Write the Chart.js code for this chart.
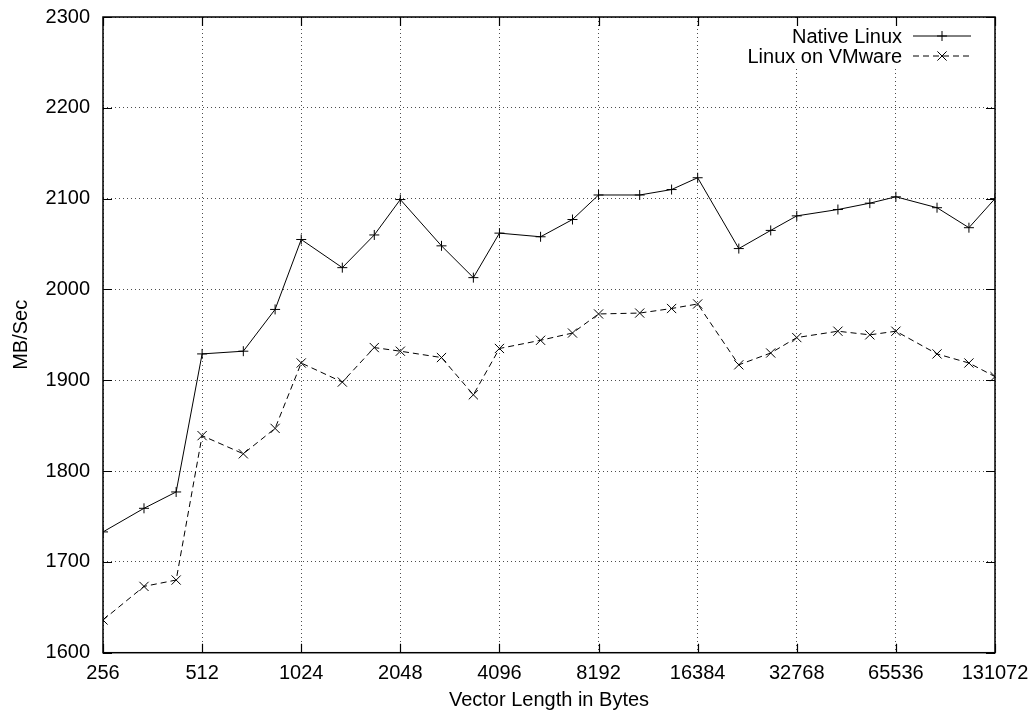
<!DOCTYPE html>
<html>
<head>
<meta charset="utf-8">
<script src="https://cdn.jsdelivr.net/npm/chart.js@4/dist/chart.umd.min.js"></script>
<style>
html,body{margin:0;padding:0;background:#fff;}
#wrap{width:1035px;height:718px;}
</style>
</head>
<body>
<div id="wrap"><canvas id="c" width="1035" height="718"></canvas></div>
<script>
// ---- data ----
const vectorLengths = [256, 341, 427, 512, 683, 853, 1024, 1365, 1707, 2048, 2731, 3413, 4096, 5461, 6827, 8192, 10923, 13653, 16384, 21845, 27307, 32768, 43691, 54613, 65536, 87381, 109227, 131072];
const nativeLinux = [1733, 1759, 1777, 1929, 1932, 1978, 2055, 2024, 2060, 2099, 2048, 2013, 2062, 2058, 2077, 2104, 2104, 2110, 2123, 2045, 2065, 2081, 2088, 2095, 2102, 2090, 2068, 2100];
const linuxOnVMware = [1636, 1673, 1680, 1839, 1819, 1847, 1919, 1898, 1936, 1932, 1925, 1884, 1935, 1944, 1952, 1973, 1974, 1979, 1984, 1917, 1930, 1947, 1954, 1950, 1954, 1929, 1919, 1904];
const xTickValues = [256, 512, 1024, 2048, 4096, 8192, 16384, 32768, 65536, 131072];
const yTickValues = [1600, 1700, 1800, 1900, 2000, 2100, 2200, 2300];
const seriesNames = ['Native Linux', 'Linux on VMware'];
const xTitle = 'Vector Length in Bytes';
const yTitle = 'MB/Sec';

const FONT = 'Liberation Sans, Arial, Helvetica, sans-serif';
Chart.defaults.font.family = FONT;
Chart.defaults.font.size = 20;
Chart.defaults.color = '#000';

const toPts = (ys) => vectorLengths.map((x, i) => ({x: x, y: ys[i]}));

const frame = {
  id: 'frame',
  beforeDatasetsDraw(chart) {
    const {ctx, chartArea: a, scales} = chart;
    ctx.save();
    // key area blanks the grid behind it
    ctx.fillStyle = '#fff';
    ctx.fillRect(745, a.top + 2, 243, 48);
    ctx.strokeStyle = '#000';
    ctx.lineWidth = 1.5;
    ctx.setLineDash([]);
    ctx.strokeRect(a.left, a.top, a.right - a.left, a.bottom - a.top);
    const tl = 9;
    ctx.lineWidth = 1.2;
    ctx.beginPath();
    xTickValues.forEach(v => {
      const px = Math.round(scales.x.getPixelForValue(v)) + 0.5;
      ctx.moveTo(px, a.bottom); ctx.lineTo(px, a.bottom - tl);
      ctx.moveTo(px, a.top); ctx.lineTo(px, a.top + tl);
    });
    yTickValues.forEach(v => {
      const py = Math.round(scales.y.getPixelForValue(v)) + 0.5;
      ctx.moveTo(a.left, py); ctx.lineTo(a.left + tl, py);
      ctx.moveTo(a.right, py); ctx.lineTo(a.right - tl, py);
    });
    ctx.stroke();
    ctx.restore();
  },
  afterDatasetsDraw(chart) {
    const {ctx} = chart;
    ctx.save();
    ctx.font = '20px ' + FONT;
    ctx.fillStyle = '#000';
    ctx.textAlign = 'right';
    ctx.textBaseline = 'middle';
    const rows = [37, 57];
    chart.data.datasets.forEach((ds, i) => {
      const y = rows[i];
      ctx.fillText(ds.label, 902, y);
      ctx.strokeStyle = '#000';
      ctx.lineWidth = 1;
      ctx.setLineDash(ds.borderDash || []);
      ctx.beginPath();
      ctx.moveTo(913, y - 1);
      ctx.lineTo(971, y - 1);
      ctx.stroke();
      ctx.setLineDash([]);
      Chart.helpers.drawPoint(ctx, {pointStyle: ds.pointStyle, radius: ds.pointRadius, borderWidth: 1}, 942, y - 1);
    });
    ctx.restore();
  }
};

new Chart(document.getElementById('c'), {
  type: 'line',
  data: {
    datasets: [
      {
        label: seriesNames[0],
        data: toPts(nativeLinux),
        borderColor: '#000',
        backgroundColor: '#000',
        borderWidth: 1,
        pointStyle: 'cross',
        pointRadius: 5,
        pointBorderWidth: 1,
        pointBorderColor: '#000',
        fill: false,
        tension: 0
      },
      {
        label: seriesNames[1],
        data: toPts(linuxOnVMware),
        borderColor: '#000',
        backgroundColor: '#000',
        borderWidth: 1,
        borderDash: [6, 4],
        pointStyle: 'crossRot',
        pointRadius: 6.5,
        pointBorderWidth: 1,
        pointBorderColor: '#000',
        fill: false,
        tension: 0
      }
    ]
  },
  options: {
    responsive: false,
    animation: false,
    events: [],
    layout: {padding: {left: 0, right: 40, top: 17, bottom: 0}},
    plugins: {legend: {display: false}, tooltip: {enabled: false}},
    scales: {
      x: {
        type: 'logarithmic',
        min: 256,
        max: 131072,
        afterBuildTicks(scale) { scale.ticks = xTickValues.map(v => ({value: v})); },
        afterFit(scale) { scale.height = 65.3; scale.paddingLeft = 0; scale.paddingRight = 0; },
        ticks: {
          autoSkip: false,
          maxRotation: 0,
          padding: 9,
          callback: (v) => String(v)
        },
        grid: {
          drawTicks: false,
          color: 'rgba(0,0,0,0.7)',
          lineWidth: 1
        },
        border: {display: false, dash: [1, 3]},
        title: {display: true, text: xTitle, padding: {top: 0, bottom: 6}}
      },
      y: {
        type: 'linear',
        min: 1600,
        max: 2300,
        afterBuildTicks(scale) { scale.ticks = yTickValues.map(v => ({value: v})); },
        afterFit(scale) { scale.width = 103; scale.paddingTop = 0; scale.paddingBottom = 0; },
        ticks: {padding: 13, callback: (v) => String(v)},
        grid: {
          drawTicks: false,
          color: 'rgba(0,0,0,0.7)',
          lineWidth: 1
        },
        border: {display: false, dash: [1, 3]},
        title: {display: true, text: yTitle, padding: {top: 9, bottom: 0}}
      }
    }
  },
  plugins: [frame]
});
</script>
</body>
</html>
